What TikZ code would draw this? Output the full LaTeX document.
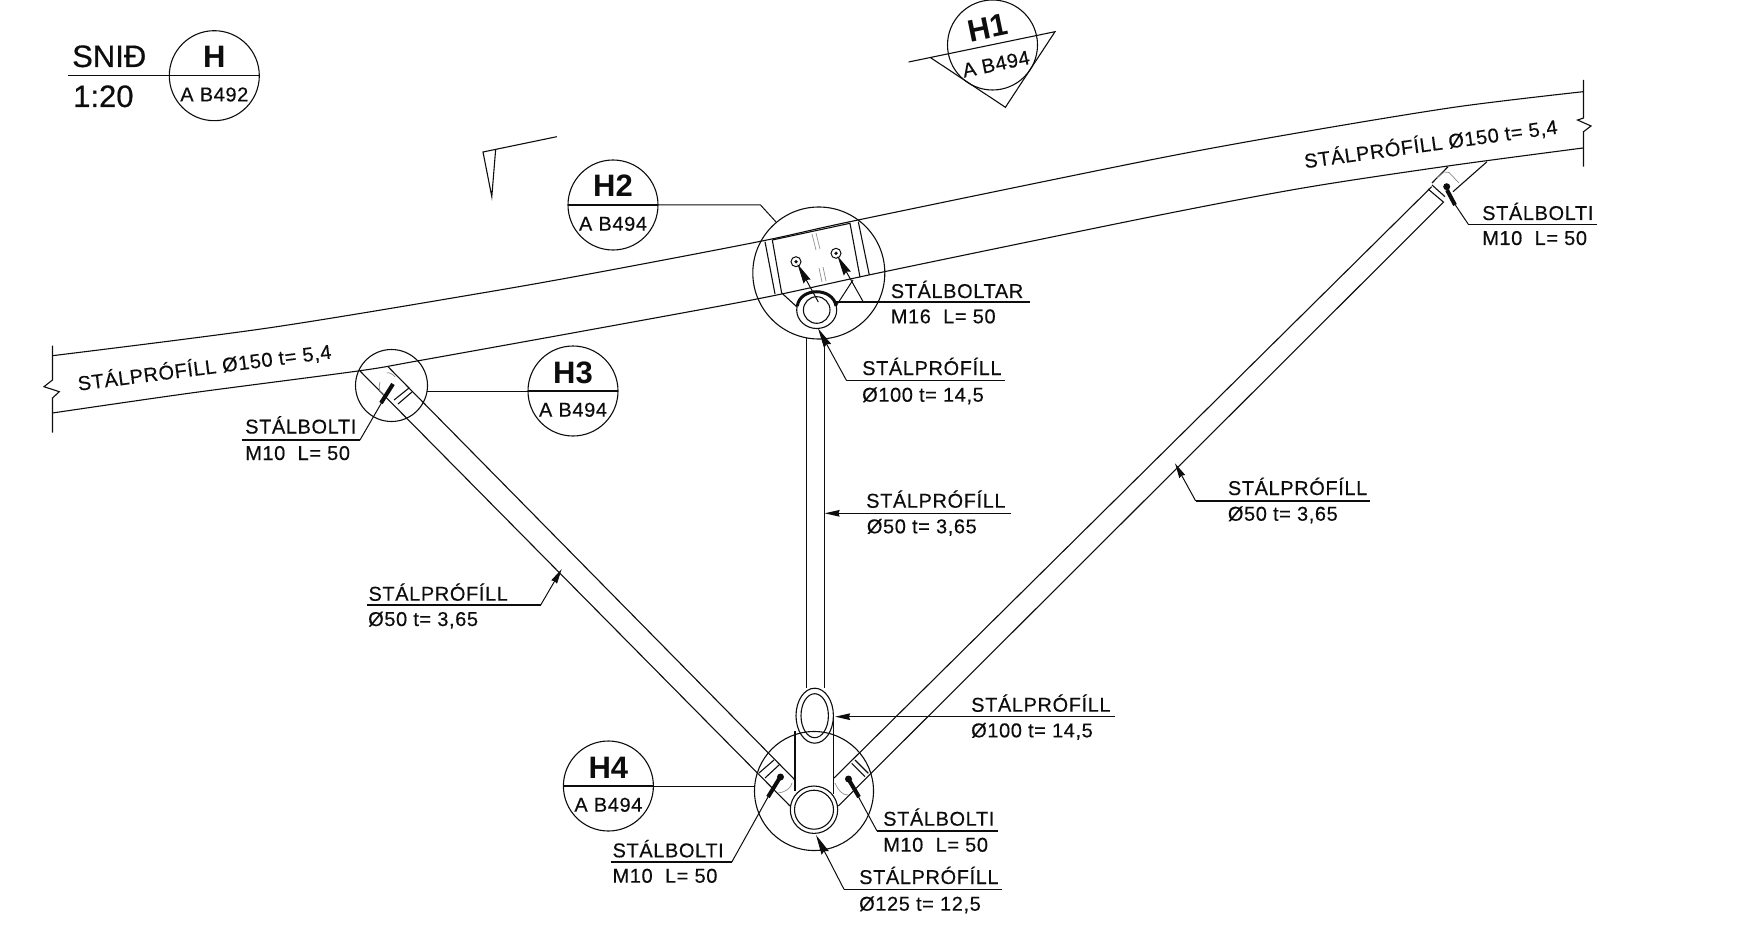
\documentclass[tikz,border=0pt]{standalone}
\usepackage{fontspec}
\setmainfont{Liberation Sans}
\newfontfamily\lblf[LetterSpace=3,FakeBold=0.35]{Liberation Sans}
\newfontfamily\ttlf[FakeBold=0.5]{Liberation Sans}
\usetikzlibrary{arrows.meta}
\definecolor{ink}{gray}{0.05}
\tikzset{
  txt/.style={anchor=base west,inner sep=0pt,text=ink,font=\lblf\fontsize{20}{21}\selectfont},
  ttl/.style={anchor=base west,inner sep=0pt,text=ink,font=\ttlf\fontsize{31}{33}\selectfont},
  tagtop/.style={anchor=base,inner sep=0pt,text=ink,font=\bfseries\fontsize{31}{33}\selectfont},
  tagsub/.style={anchor=base,inner sep=0pt,text=ink,font=\lblf\fontsize{20}{22}\selectfont},
  ln/.style={draw=ink,line width=1.1pt},
  ghost/.style={draw=black!45,line width=0.7pt},
  uline/.style={draw=ink,line width=1.5pt},
  lead/.style={draw=ink,line width=1pt,line join=miter},
  thin head/.style={-{Stealth[length=15pt,width=6.5pt,inset=1pt]}},
  bolt head/.style={-{Stealth[length=20pt,width=8pt,inset=2pt]}},
  bolt body/.style={draw=ink,line width=4pt},
}
\newcommand{\tagcircle}[5]{% name, cx, cy, top, sub
  \draw[ln] (#2,#3) circle (45pt);
  \draw[ln] (#2-45,#3) -- (#2+45,#3);
  \node[tagtop] (#1top) at (#2,#3-8) {#4};
  \node[tagsub] (#1sub) at (#2,#3+25.7) {#5};
}
\begin{document}
\begin{tikzpicture}[x=1pt,y=-1pt]
\useasboundingbox (0,0) rectangle (1747,933);

% title
\node[ttl] (snid) at (72,67) {SNIÐ};
\node[ttl] (scale) at (73,107) {1:20};
\draw[ln] (68,75.7) -- (169,75.7);
\tagcircle{H}{214.3}{75.7}{H}{A B492}

% section mark H1
\draw[ln] (992.5,45) circle (45pt);
\draw[ln] (908.6,62) -- (1055,31.7) -- (1005.4,107.3) -- (930,57.3);
\node[tagtop,anchor=center,rotate=11.7] (H1top) at (988,28) {H1};
\node[tagsub,anchor=center,rotate=11.7] (H1sub) at (996,64) {A B494};

% section mark left
\draw[ln] (556.8,136.7) -- (483,152) -- (491.8,196.7) -- (495.6,150);

% main beam
\draw[ln] plot[smooth,tension=0.5] coordinates {(52.4,355.7) (268,328) (482,293) (600,272) (762,241) (858,220) (1150,160) (1303,132) (1456,107) (1583,91.7)};
\draw[ln] plot[smooth,tension=0.5] coordinates {(52.4,413) (191,393) (358,371) (417,361) (600,328) (762,298) (883,272) (1150,217) (1303,188) (1448,166) (1583,148)};
\draw[ln] (52.5,345.7) -- (52.5,380) -- (44,386.7) -- (59.3,391.7) -- (52.5,398) -- (52.5,432.7);
\draw[ln] (1583.5,80) -- (1583.5,118) -- (1577.5,120) -- (1591,126) -- (1583.5,131.7) -- (1583.5,166.7);
\node[txt,rotate=7.25] (beamL) at (78.5,390.7) {STÁLPRÓFÍLL Ø150 t= 5,4};
\node[txt,rotate=7.8] (beamR) at (1305,168.3) {STÁLPRÓFÍLL Ø150 t= 5,4};

% H2 detail
\draw[ln] (818.8,273) circle (66pt);
\tagcircle{H2}{613}{205}{H2}{A B494}
\draw[lead] (658,205) -- (760.5,205) -- (775.8,221.7);
\draw[ln] (772.3,240) -- (850,223.3) -- (860,277.3);
\draw[ln] (772.3,240) -- (781.7,293.3);
\draw[ln] (765,241.7) -- (775,294);
\draw[ln] (858.3,221.7) -- (869.3,275);
\draw[ghost] (812,234) -- (816,250) (816,233) -- (820,249) (819,268) -- (822,282) (823,267) -- (826,281);
\draw[ln] (781.7,293) -- (796.7,306.7);
\draw[lead] (853,280) -- (836.7,305);
% collar
\draw[ln] (816.7,310) ellipse (20pt and 18.5pt);
\draw[ln] (816.7,310) circle (13.3pt);
\draw[draw=ink,line width=3pt] (797.3,306) .. controls (800,287) and (833,287) .. (836,306);
% bolts in plate
\draw[lead] (796,261.7) circle (5pt);
\fill[ink] (796,261.7) circle (1.8pt);
\draw[lead] (836,253.3) circle (5pt);
\fill[ink] (836,253.3) circle (1.8pt);
\draw[lead,bolt head] (818.3,302) -- (797.5,264);
\draw[lead,bolt head] (863.3,302) -- (837.5,256);
\draw[uline] (836,302) -- (1030,302);
\node[txt] (t1a) at (890.6,298) {STÁLBOLTAR};
\node[txt] (t1b) at (890.6,323.3) {M16\ \ L= 50};

% vertical tube
\draw[ln] (806.5,338) -- (806.5,688);
\draw[ln] (824.5,338) -- (824.5,688);
\draw[lead,bolt head] (846.6,380.7) -- (818,328.3);
\draw[uline] (846.6,380.7) -- (1004.6,380.7);
\node[txt] (t2a) at (862,375) {STÁLPRÓFÍLL};
\node[txt] (t2b) at (862,401.7) {Ø100 t= 14,5};

\draw[uline,thin head] (1011,513.3) -- (824.5,513.3);
\node[txt] (t3a) at (866,507.7) {STÁLPRÓFÍLL};
\node[txt] (t3b) at (866.7,533.3) {Ø50 t= 3,65};

% H3 detail
\draw[ln] (391.5,385.5) circle (36pt);
\tagcircle{H3}{573}{391}{H3}{A B494}
\draw[lead] (427,391) -- (528,391);
% left diagonal
\draw[ln] (360,371) -- (790,806);
\draw[ln] (388,366.7) -- (795,780);
\draw[ln] (394,400) -- (409,388);
\draw[ln] (398,404) -- (412,392);
\draw[ghost] (380,382) .. controls (378,390) and (380,394) .. (385,395);
\draw[ghost] (386.7,373) .. controls (389,372) and (393,374) .. (395,377);
\draw[uline] (241.7,440) -- (360,440);
\draw[lead] (360,440) -- (382,402);
\draw[bolt body] (381,403) -- (393,384);
\node[txt] (t4a) at (245,433.5) {STÁLBOLTI};
\node[txt] (t4b) at (245,460) {M10\ \ L= 50};

\draw[uline] (366.7,605) -- (540.7,605);
\draw[lead,thin head] (540.7,605) -- (561.7,569);
\node[txt] (t5a) at (368.3,600.7) {STÁLPRÓFÍLL};
\node[txt] (t5b) at (368,626) {Ø50 t= 3,65};

% right diagonal
\draw[ln] (834,778) -- (1431.7,186.7);
\draw[ln] (838.3,806) -- (1444,201.7);
\draw[ln] (1432,183) -- (1448,166.7);
\draw[ln] (1453,191.7) -- (1487,161.7);
\draw[ln] (1428,189) -- (1443,201.7);
\draw[ln] (1432,185) -- (1445,196.7);
\draw[ghost] (1437,178) -- (1444,172) -- (1449,172.5) -- (1459,183);
\fill[ink] (1446.7,186.7) circle (3.5pt);
\draw[uline] (1468.3,224.3) -- (1597,224.3);
\draw[lead] (1468.3,224.3) -- (1454,203);
\draw[bolt body] (1455,205) -- (1447,190);
\node[txt] (t6a) at (1482,220) {STÁLBOLTI};
\node[txt] (t6b) at (1482,245) {M10\ \ L= 50};

\draw[uline] (1195.7,501) -- (1370,501);
\draw[lead,thin head] (1195.7,501) -- (1175,463.3);
\node[txt] (t7a) at (1227.7,495) {STÁLPRÓFÍLL};
\node[txt] (t7b) at (1227.7,520.7) {Ø50 t= 3,65};

% H4 detail
\draw[ln] (814,791) circle (59.5pt);
\tagcircle{H4}{608.4}{786}{H4}{A B494}
\draw[lead] (653,786) -- (754.7,786);
\draw[ln] (814.7,715.7) ellipse (18.7pt and 27.5pt);
\draw[ln] (814.7,715.7) ellipse (13.7pt and 22pt);
\draw[ln] (795,731) -- (795,791);
\draw[ln] (833.5,716) -- (833.5,794);
\draw[ln,fill=white] (814,809.7) circle (23.7pt);
\draw[ln] (814,809.7) circle (19.5pt);
% left connector
\draw[ln] (759,773) -- (774,760);
\draw[ln] (765,778) -- (779,765);
\draw[ghost] (792,783) .. controls (791,788) and (786,792) .. (778,793);
% right connector
\draw[ln] (851.7,763.3) -- (865,776.7);
\draw[ln] (855,760) -- (868.3,773.3);
\draw[ghost] (835,783) .. controls (838,790) and (842,795) .. (848,795);
\fill[ink] (780.5,777) circle (3.5pt);
\fill[ink] (848.5,779) circle (3.5pt);
\draw[uline] (611,862) -- (731.8,862);
\draw[lead] (731.8,862) -- (768,797);
\draw[bolt body] (768,797) -- (779,779);
\node[txt] (t8a) at (612.4,857.3) {STÁLBOLTI};
\node[txt] (t8b) at (612.4,882.7) {M10\ \ L= 50};
\draw[uline] (877,831) -- (997.8,831);
\draw[lead] (877,831) -- (858,796);
\draw[bolt body] (859,797) -- (849,780);
\node[txt] (t9a) at (883,825.7) {STÁLBOLTI};
\node[txt] (t9b) at (883,851.7) {M10\ \ L= 50};
\draw[uline] (844,889.3) -- (1001.6,889.3);
\draw[lead,bolt head] (844,889.3) -- (816,835);
\node[txt] (t10a) at (859,884) {STÁLPRÓFÍLL};
\node[txt] (t10b) at (859,910.7) {Ø125 t= 12,5};
\draw[uline,thin head] (1114.5,716.7) -- (835,716.7);
\node[txt] (t11a) at (971,711.7) {STÁLPRÓFÍLL};
\node[txt] (t11b) at (971,737.3) {Ø100 t= 14,5};
\end{tikzpicture}
\end{document}
